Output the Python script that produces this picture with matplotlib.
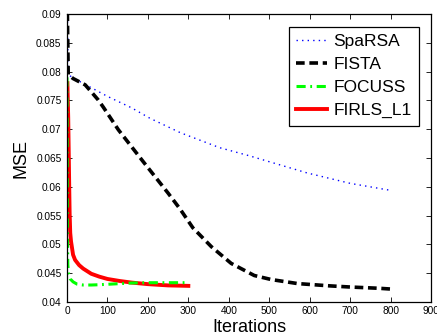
import matplotlib
matplotlib.use("Agg")
import matplotlib.pyplot as plt

plt.rcParams['font.family'] = ['Liberation Sans', 'DejaVu Sans']

# SpaRSA
sparsa_x = [0, 3, 15, 100, 160, 205, 280, 377, 450, 594, 700, 790, 800]
sparsa_y = [0.095, 0.0795, 0.0789, 0.0757, 0.0737, 0.0719, 0.0694, 0.0668, 0.0654, 0.0624, 0.0606, 0.0595, 0.0594]

# FISTA
fista_x = [0, 3, 15, 45, 77, 90, 127, 188, 250, 279, 311, 357, 406, 463, 505, 570, 650, 700, 772, 800]
fista_y = [0.095, 0.0795, 0.0788, 0.0777, 0.0751, 0.0738, 0.0699, 0.0644, 0.0589, 0.0562, 0.0529, 0.0496,
           0.0467, 0.0446, 0.0439, 0.0432, 0.0428, 0.0426, 0.04238, 0.04225]

# FOCUSS
focuss_x = [0, 0.5, 1, 2, 4, 8, 15, 25, 40, 60, 80, 120, 160, 200, 300]
focuss_y = [0.0790, 0.065, 0.052, 0.0465, 0.0448, 0.0440, 0.0435, 0.0431, 0.04295, 0.04295, 0.0430, 0.04315,
            0.0433, 0.04335, 0.04335]

# FIRLS_L1
firls_x = [1, 3, 4.5, 5.5, 6.5, 8, 10, 15, 20, 30, 40, 60, 80, 100, 130, 160, 200, 250, 300]
firls_y = [0.078, 0.072, 0.065, 0.060, 0.0555, 0.052, 0.0505, 0.0482, 0.0473, 0.0464, 0.0458, 0.0449, 0.0444,
           0.0440, 0.04365, 0.04337, 0.0431, 0.04288, 0.0428]

xticks = [0, 100, 200, 300, 400, 500, 600, 700, 800, 900]
yticks = [0.04, 0.045, 0.05, 0.055, 0.06, 0.065, 0.07, 0.075, 0.08, 0.085, 0.09]
ytick_labels = ['0.04', '0.045', '0.05', '0.055', '0.06', '0.065', '0.07', '0.075', '0.08', '0.085', '0.09']

fig = plt.figure(figsize=(4.37, 3.35), dpi=100)
ax = fig.add_axes([67 / 437, 1 - 302 / 335, 364 / 437, 288 / 335])

ax.plot(sparsa_x, sparsa_y, color='#0000ff', lw=1.0, linestyle=(0, (1, 3)), label='SpaRSA')
ax.plot(fista_x, fista_y, color='black', lw=2.6, linestyle=(0, (2.4, 1.3)), label='FISTA')
ax.plot(firls_x, firls_y, color='#ff0000', lw=2.8, label='FIRLS_L1', zorder=2.1)
ax.plot(focuss_x, focuss_y, color='#00ff00', lw=2.2, linestyle=(0, (3, 1.5, 0.6, 1.5)), label='FOCUSS',
        zorder=2.2)

handles, labels = ax.get_legend_handles_labels()
order = [0, 1, 3, 2]
handles = [handles[i] for i in order]
labels = [labels[i] for i in order]

ax.set_xlim(0, 900)
ax.set_ylim(0.04, 0.09)
ax.set_xticks(xticks)
ax.set_xticklabels([str(t) for t in xticks])
ax.set_yticks(yticks)
ax.set_yticklabels(ytick_labels)
ax.tick_params(direction='in', top=True, right=True, length=3.5, width=0.6, labelsize=7.3, colors='black')
ax.tick_params(axis='y', pad=4)
ax.tick_params(axis='x', pad=3)
for s in ax.spines.values():
    s.set_linewidth(0.9)

ax.set_xlabel('Iterations', fontsize=13, labelpad=2)
ax.set_ylabel('MSE', fontsize=13, labelpad=5)

leg = ax.legend(handles, labels, loc='upper right', bbox_to_anchor=(0.967, 0.955), borderaxespad=0,
                fontsize=12.5, handlelength=1.75, handletextpad=0.4, labelspacing=0.45, borderpad=0.42,
                fancybox=False, framealpha=1, edgecolor='black')
leg.get_frame().set_linewidth(0.9)

fig.savefig('out.png', dpi=100)
